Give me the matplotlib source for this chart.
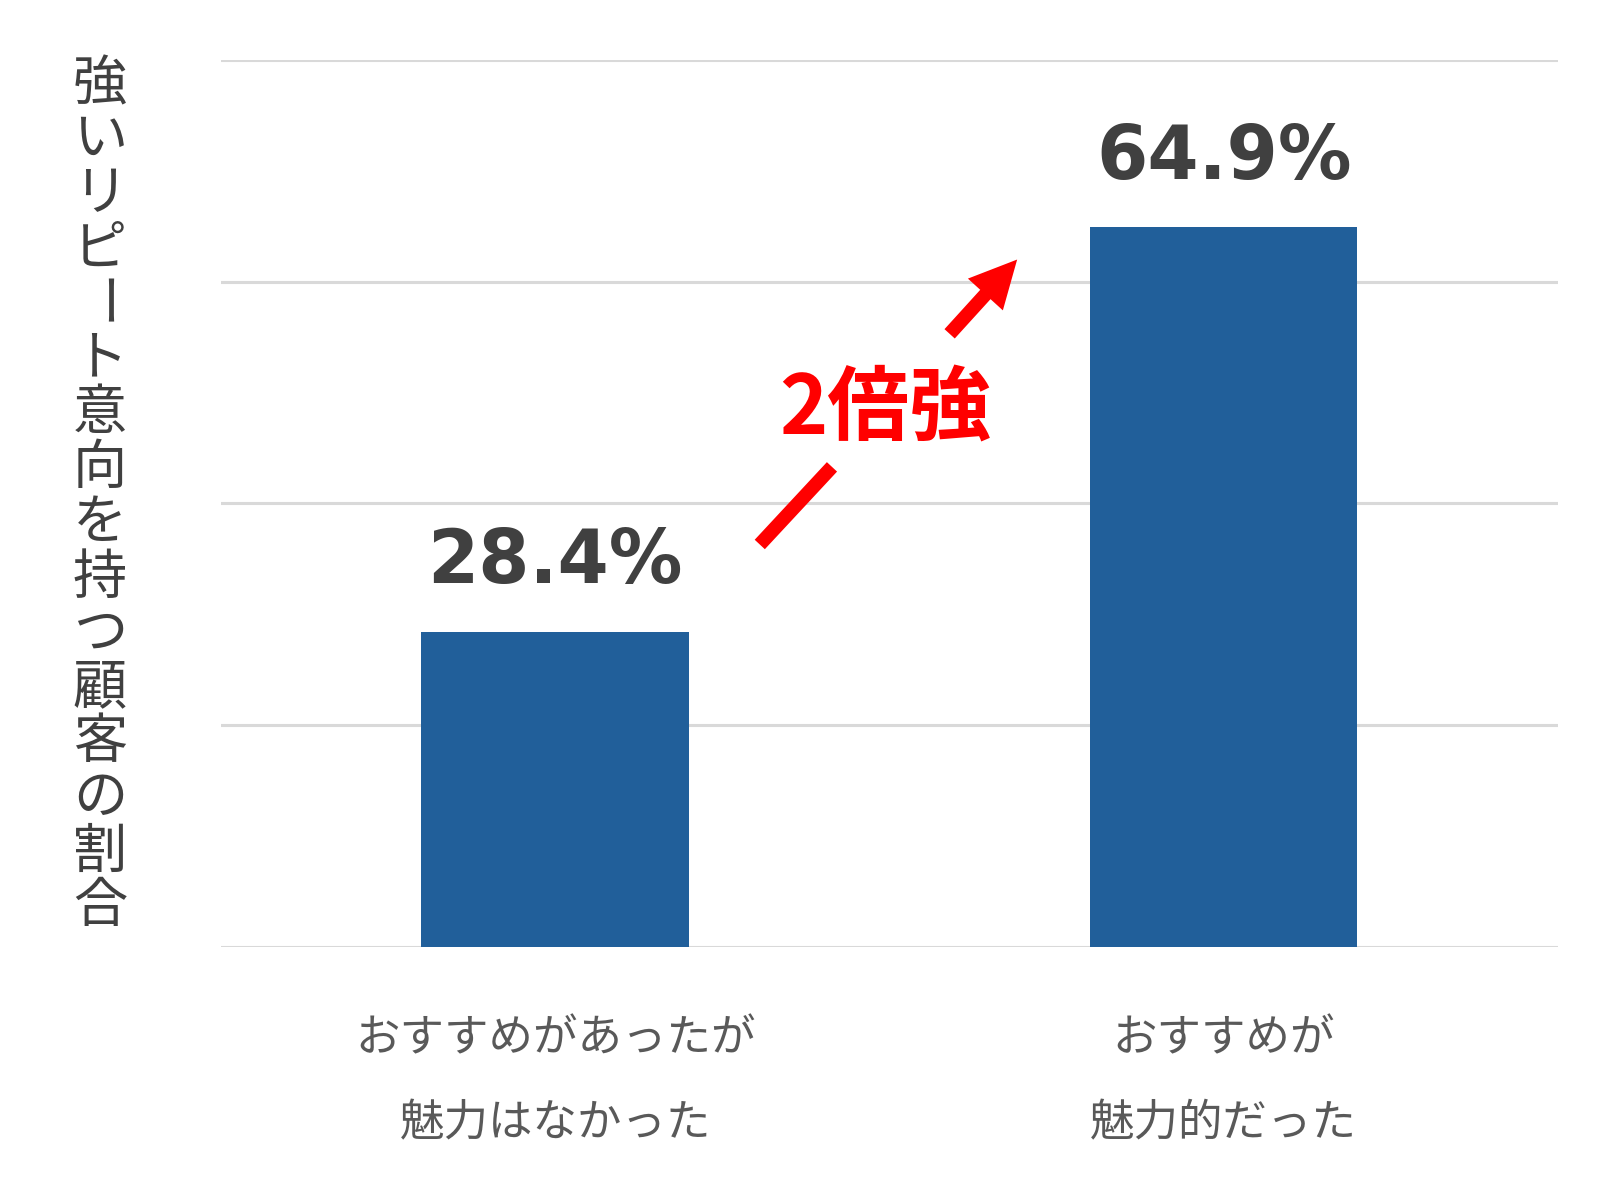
import matplotlib
matplotlib.use("Agg")
import matplotlib.pyplot as plt
from matplotlib.patches import FancyArrowPatch

plt.rcParams['font.family'] = ['Noto Sans CJK JP', 'DejaVu Sans']

categories = ["おすすめがあったが\n魅力はなかった", "おすすめが\n魅力的だった"]
values = [28.4, 64.9]
value_labels = ["28.4%", "64.9%"]
ylabel = "強いリピート意向を持つ顧客の割合"
callout = "2倍強"

bar_color = "#215F9A"
grid_color = "#D9D9D9"

fig = plt.figure(figsize=(16.08, 11.97), dpi=100)
ax = fig.add_axes([0.1374, 0.2089, 0.8315, 0.741])

x = list(range(len(categories)))
ax.bar(x, values, width=0.4, color=bar_color, zorder=3)
ax.set_xlim(-0.5, 1.5)
ax.set_ylim(0, 80)
ax.set_yticks([0, 20, 40, 60, 80])
ax.yaxis.grid(True, color=grid_color, linewidth=2.2, zorder=0)
ax.set_axisbelow(True)
ax.tick_params(axis='y', left=False, labelleft=False)
ax.tick_params(axis='x', bottom=False, pad=46)
ax.set_xticks(x)
ax.set_xticklabels(categories, fontsize=32, color="#595959", linespacing=2.07)
for s in ax.spines.values():
    s.set_visible(False)

for xi, v, lab in zip(x, values, value_labels):
    ax.annotate(lab, (xi, v), xytext=(0, 35), textcoords='offset points',
                ha='center', va='baseline', fontsize=53, fontweight='bold',
                color="#404040", family='DejaVu Sans')

# vertical y label: one character per row, the long-vowel mark turned upright
top_px, pitch_px = 85, 54.8
for i, ch in enumerate(ylabel):
    yy = 1 - (top_px + i * pitch_px) / 1197
    rot = -90 if ch == "ー" else 0
    fig.text(100 / 1608, yy, ch, ha='center', va='center', rotation=rot,
             fontsize=39, color="#404040")

# red arrow split around the callout text
ax.plot([0.306, 0.414], [36.3, 43.3], color="red", linewidth=10,
        solid_capstyle='butt', zorder=5)
arr = FancyArrowPatch((0.590, 55.3), (0.691, 62.0), transform=ax.transData,
                      arrowstyle="simple,head_length=34,head_width=34,tail_width=10",
                      mutation_scale=1, color="red", lw=0, shrinkA=0, shrinkB=0,
                      zorder=5)
ax.add_patch(arr)
ax.text(0.493, 48.4, callout, ha='center', va='center', fontsize=59,
        fontweight='bold', color="red", zorder=6)

fig.savefig("out.png", dpi=100)
